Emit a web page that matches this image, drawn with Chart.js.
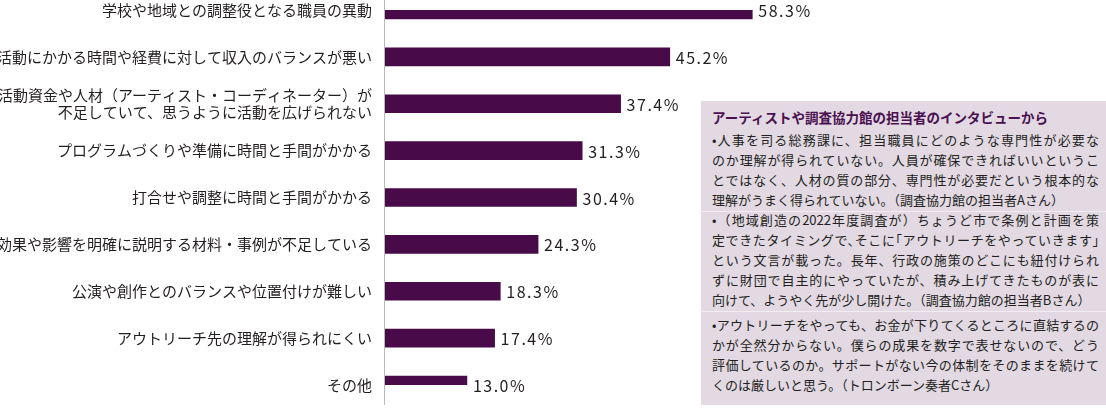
<!DOCTYPE html>
<html lang="ja">
<head>
<meta charset="utf-8">
<script src="https://cdn.jsdelivr.net/npm/chart.js@4/dist/chart.umd.min.js"></script>
<style>
  html, body { margin: 0; padding: 0; background: #fff; }
  #wrap { position: relative; width: 1106px; height: 408px; overflow: hidden; }
  #c { position: absolute; left: 0; top: 0; }
  #box {
    position: absolute; left: 701px; top: 101px; width: 405px; height: 304px;
    background: #e2d9e3; box-sizing: border-box; padding: 6px 7px 0 11px;
    font-family: "Noto Sans CJK JP", sans-serif; color: #231f20; font-size: 13px;
  }
  #box .title { color: #4a1050; font-weight: bold; font-size: 13.5px; line-height: 20px; height: 20px; }
  #box .sep { height: 0; border-top: 1px solid #f2edf3; margin: 1px -7px 0 -11px; }
  #box .ln { height: 20px; line-height: 20px; white-space: nowrap; text-align: justify; text-align-last: justify; }
  #box .ln.last { text-align-last: left; }
  #box .ln.tight { font-feature-settings: "halt"; }
</style>
</head>
<body>
<div id="wrap">
  <canvas id="c" width="1106" height="408"></canvas>
  <div id="box">
    <div class="title">アーティストや調査協力館の担当者のインタビューから</div>
    <div class="para" style="margin-top:3px">
      <div class="ln">•人事を司る総務課に、担当職員にどのような専門性が必要な</div>
      <div class="ln">のか理解が得られていない。人員が確保できればいいというこ</div>
      <div class="ln">とではなく、人材の質の部分、専門性が必要だという根本的な</div>
      <div class="ln last">理解がうまく得られていない。（調査協力館の担当者Aさん）</div>
    </div>
    <div class="sep"></div>
    <div class="para" style="margin-top:-2px">
      <div class="ln">•（地域創造の2022年度調査が）ちょうど市で条例と計画を策</div>
      <div class="ln tight">定できたタイミングで、そこに「アウトリーチをやっていきます」</div>
      <div class="ln">という文言が載った。長年、行政の施策のどこにも紐付けられ</div>
      <div class="ln">ずに財団で自主的にやっていたが、積み上げてきたものが表に</div>
      <div class="ln last">向けて、ようやく先が少し開けた。（調査協力館の担当者Bさん）</div>
    </div>
    <div class="sep"></div>
    <div class="para" style="margin-top:3px">
      <div class="ln">•アウトリーチをやっても、お金が下りてくるところに直結するの</div>
      <div class="ln">かが全然分からない。僕らの成果を数字で表せないので、どう</div>
      <div class="ln">評価しているのか。サポートがない今の体制をそのままを続けて</div>
      <div class="ln last">くのは厳しいと思う。（トロンボーン奏者Cさん）</div>
    </div>
  </div>
</div>
<script>
const categories = [
  "学校や地域との調整役となる職員の異動",
  "活動にかかる時間や経費に対して収入のバランスが悪い",
  ["活動資金や人材（アーティスト・コーディネーター）が", "不足していて、思うように活動を広げられない"],
  "プログラムづくりや準備に時間と手間がかかる",
  "打合せや調整に時間と手間がかかる",
  "効果や影響を明確に説明する材料・事例が不足している",
  "公演や創作とのバランスや位置付けが難しい",
  "アウトリーチ先の理解が得られにくい",
  "その他"
];
const values = [58.3, 45.2, 37.4, 31.3, 30.4, 24.3, 18.3, 17.4, 13.0];
const valueSuffix = "%";

const axisLine = {
  id: 'axisLine',
  afterDraw(chart) {
    const ctx = chart.ctx;
    const x = chart.scales.x.getPixelForValue(0) - 0.5;
    ctx.save();
    ctx.strokeStyle = '#b8b8b8';
    ctx.lineWidth = 1;
    ctx.beginPath();
    ctx.moveTo(x, 0);
    ctx.lineTo(x, 405);
    ctx.stroke();
    ctx.restore();
  }
};

const valueLabels = {
  id: 'valueLabels',
  afterDatasetsDraw(chart) {
    const ctx = chart.ctx;
    const meta = chart.getDatasetMeta(0);
    ctx.save();
    ctx.font = '16px "Noto Sans CJK JP", sans-serif';
    try { ctx.letterSpacing = '1.5px'; } catch (e) {}
    ctx.fillStyle = '#231f20';
    ctx.textAlign = 'left';
    ctx.textBaseline = 'middle';
    meta.data.forEach((bar, i) => {
      ctx.fillText(values[i].toFixed(1) + valueSuffix, bar.x + 6, bar.y + 1);
    });
    ctx.restore();
  }
};

new Chart(document.getElementById('c'), {
  type: 'bar',
  data: {
    labels: categories,
    datasets: [{
      data: values,
      backgroundColor: '#480a48',
      borderWidth: 0,
      barThickness: 18
    }]
  },
  options: {
    indexAxis: 'y',
    responsive: false,
    animation: false,
    layout: { padding: { top: 10, bottom: 23, right: 91, left: 0 } },
    plugins: { legend: { display: false }, tooltip: { enabled: false } },
    scales: {
      x: { display: false, min: 0, max: 100 },
      y: {
        offset: false,
        grid: { display: false, drawTicks: false },
        border: { display: false },
        afterFit(scale) { scale.width = 385; scale.paddingTop = 0; scale.paddingBottom = 0; },
        ticks: {
          autoSkip: false,
          padding: 13,
          color: '#231f20',
          font: { family: '"Noto Sans CJK JP", sans-serif', size: 15, lineHeight: 1.1 }
        }
      }
    }
  },
  plugins: [axisLine, valueLabels]
});
</script>
</body>
</html>
